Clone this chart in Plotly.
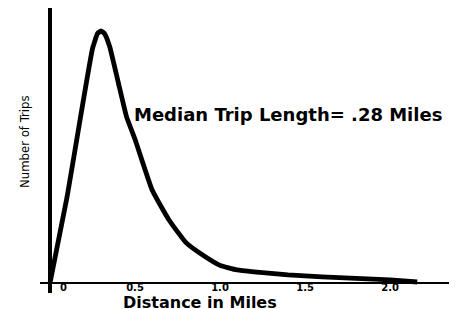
import plotly.graph_objects as go

# Trip length distribution (relative number of trips, peak = 100)
distance_miles = [0.00, 0.10, 0.18, 0.25, 0.28, 0.30, 0.32, 0.35, 0.40, 0.45,
                  0.50, 0.60, 0.70, 0.80, 0.90, 1.00, 1.10, 1.20, 1.30, 1.40,
                  1.50, 1.60, 1.80, 2.00, 2.16]
trips = [0, 34, 66, 93, 99, 100, 99, 94, 80, 66,
         57, 37, 25, 16, 11, 7, 5.2, 4.4, 3.8, 3.2,
         2.8, 2.4, 1.8, 1.2, 0.4]

tick_vals = [0.08, 0.5, 1.0, 1.5, 2.0]
tick_text = ["0", "0.5", "1.0", "1.5", "2.0"]

annotation_text = "Median Trip Length= .28 Miles"
x_title = "Distance in Miles"
y_title = "Number of Trips"

fig = go.Figure()
fig.add_trace(go.Scatter(
    x=distance_miles, y=trips, mode="lines",
    line=dict(color="black", width=4.8, shape="spline", smoothing=0.4),
    showlegend=False, hoverinfo="skip",
))

fig.add_annotation(
    x=0.482, y=66.7, xref="x", yref="y", text=annotation_text,
    showarrow=False, xanchor="left", yanchor="middle",
    font=dict(family="DejaVu Sans", size=18, color="black", weight="bold"),
)
# axis titles
fig.add_annotation(
    x=0.3855, y=-0.0333, xref="paper", yref="paper", text=x_title,
    showarrow=False, xanchor="center", yanchor="middle",
    font=dict(family="DejaVu Sans", size=16, color="black", weight="bold"),
)
fig.add_annotation(
    x=-0.036, y=0.53, xref="paper", yref="paper", text=y_title, textangle=-90,
    showarrow=False, xanchor="center", yanchor="middle",
    font=dict(family="DejaVu Sans Condensed, Liberation Sans Narrow, sans-serif",
              size=13, color="black"),
)

fig.update_layout(
    width=449, height=301,
    margin=dict(l=32, r=2, t=0, b=16, pad=0, autoexpand=False),
    paper_bgcolor="white", plot_bgcolor="white",
    xaxis=dict(
        range=[-0.0588, 2.382],
        showgrid=False, automargin=False,
        zeroline=True, zerolinecolor="black", zerolinewidth=4,
        tickvals=tick_vals, ticktext=tick_text, ticks="",
        anchor="free", position=0.045,
        tickfont=dict(family="DejaVu Sans", size=10, color="black", weight="bold"),
        showline=False,
    ),
    yaxis=dict(
        range=[-3.97, 109.1],
        showgrid=False, showticklabels=False, ticks="", automargin=False,
        zeroline=True, zerolinecolor="black", zerolinewidth=2,
        showline=False,
    ),
)

fig.write_html("out.html")
